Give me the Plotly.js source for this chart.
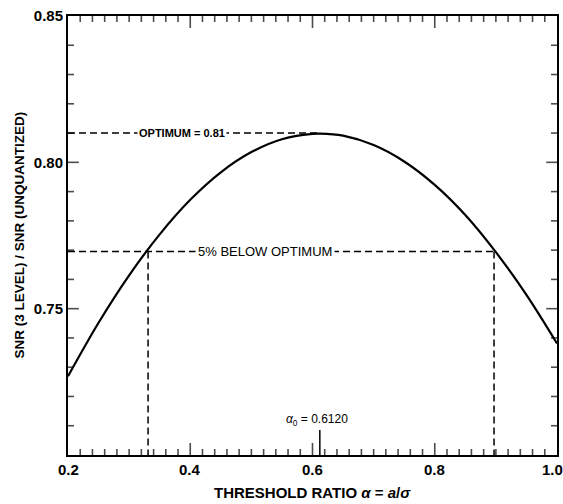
<!DOCTYPE html>
<html>
<head>
<meta charset="utf-8">
<script src="https://cdn.plot.ly/plotly-3.0.1.min.js"></script>
<style>html,body{margin:0;padding:0;background:#fff;}#chart{width:563px;height:504px;}</style>
</head>
<body>
<div id="chart"></div>
<script>
// Threshold ratio alpha = a/sigma and the SNR ratio
var alpha = [0.20, 0.25, 0.30, 0.35, 0.40, 0.45, 0.50, 0.55, 0.60, 0.612, 0.65, 0.70, 0.75, 0.80, 0.85, 0.90, 0.95, 1.00];
var snrRatio = [0.7269, 0.7452, 0.7614, 0.7754, 0.7872, 0.7966, 0.8035, 0.8079, 0.8097, 0.8098, 0.8091, 0.8059, 0.8003, 0.7923, 0.7820, 0.7693, 0.7547, 0.7381];

var optimumValue = 0.81;
var alpha0 = 0.612;
var fivePctValue = 0.7695;
var fivePctLow = 0.331;
var fivePctHigh = 0.897;
var yFloor = 0.70;
var yTop = 0.85;
var xLeft = 0.2;
var xRight = 1.0;
var alpha0MarkTop = 0.7085;

// tick labels
var xTickVals = [0.2, 0.4, 0.6, 0.8, 1.0];
var xTickText = ["0.2", "0.4", "0.6", "0.8", "1.0"];
var yTickVals = [0.75, 0.80, 0.85];
var yTickText = ["0.75", "0.80", "0.85"];
// tick marks on the frame
var xMajorMarks = [0.4, 0.6, 0.8];
var yMajorMarks = [0.75, 0.80];

var FONT = "Liberation Sans, Arial, sans-serif";
var dashStyle = {color: "black", width: 1.5, dash: "7px,4px"};

// plot area size in px, used to turn tick lengths (px) into axis units
var PW = 563 - 68 - 6, PH = 504 - 16 - 49;
var xPerPx = (xRight - xLeft) / PW, yPerPx = (yTop - yFloor) / PH;

// frame tick marks drawn as line markers, centred half a tick inside the frame
var mx = [], my = [], ms = [], msym = [];
function addXTick(v, len) {
  mx.push(v, v); my.push(yFloor + len / 2 * yPerPx, yTop - len / 2 * yPerPx);
  ms.push(len, len); msym.push("line-ns-open", "line-ns-open");
}
function addYTick(v, len) {
  mx.push(xLeft + len / 2 * xPerPx, xRight - len / 2 * xPerPx); my.push(v, v);
  ms.push(len, len); msym.push("line-ew-open", "line-ew-open");
}
for (var i = 1; i < 40; i++) {
  var xv = Math.round((xLeft + i * 0.02) * 1000) / 1000;
  addXTick(xv, xMajorMarks.indexOf(xv) >= 0 ? 10 : 5);
}
for (var j = 1; j < 15; j++) {
  var yv = Math.round((yFloor + j * 0.01) * 1000) / 1000;
  addYTick(yv, yMajorMarks.indexOf(yv) >= 0 ? 9 : 5);
}

var traces = [
  {x: mx, y: my, mode: "markers", marker: {symbol: msym, size: ms, color: "black", line: {color: "black", width: 1.6}},
   hoverinfo: "skip", cliponaxis: false},
  {x: alpha, y: snrRatio, mode: "lines", line: {color: "black", width: 2.2, shape: "spline"}, hoverinfo: "skip"},
  {x: [xLeft, alpha0], y: [optimumValue, optimumValue], mode: "lines", line: dashStyle, hoverinfo: "skip"},
  {x: [xLeft, fivePctHigh], y: [fivePctValue, fivePctValue], mode: "lines", line: dashStyle, hoverinfo: "skip"},
  {x: [fivePctLow, fivePctLow], y: [fivePctValue, yFloor], mode: "lines", line: dashStyle, hoverinfo: "skip"},
  {x: [fivePctHigh, fivePctHigh], y: [fivePctValue, yFloor], mode: "lines", line: dashStyle, hoverinfo: "skip"},
  {x: [alpha0, alpha0], y: [yFloor, alpha0MarkTop], mode: "lines", line: {color: "black", width: 1.5}, hoverinfo: "skip"}
];

var annotations = [
  {x: 0.5, y: -0.0843, xref: "paper", yref: "paper", yanchor: "middle", xanchor: "center", showarrow: false,
   text: "THRESHOLD RATIO <i>α</i> = <i>a</i>/<i>σ</i>", font: {family: FONT, size: 15, weight: "bold"}},
  {x: -0.1002, y: 0.5, xref: "paper", yref: "paper", xanchor: "center", yanchor: "middle", textangle: -90, showarrow: false,
   text: "SNR (3 LEVEL) / SNR (UNQUANTIZED)", font: {family: FONT, size: 13.5, weight: "bold"}},
  {x: 0.3866, y: optimumValue, xref: "x", yref: "y", text: "OPTIMUM = 0.81", showarrow: false,
   bgcolor: "white", borderpad: 1, font: {family: FONT, size: 11, weight: "bold"}},
  {x: 0.522, y: fivePctValue, xref: "x", yref: "y", text: "5% BELOW OPTIMUM", showarrow: false,
   bgcolor: "white", borderpad: 2, font: {family: FONT, size: 13}},
  {x: 0.608, y: alpha0MarkTop, xref: "x", yref: "y", yanchor: "bottom", text: "<i>α</i><sub>0</sub> = 0.6120", showarrow: false,
   font: {family: FONT, size: 12}}
];
xTickVals.forEach(function (v, k) {
  annotations.push({x: v, y: 0, xref: "x", yref: "paper", yanchor: "top", xanchor: "center",
    xshift: (k === xTickVals.length - 1) ? -5 : 0, yshift: -4, showarrow: false,
    text: xTickText[k], font: {family: FONT, size: 15, weight: "bold"}});
});

var layout = {
  width: 563, height: 504,
  margin: {l: 68, r: 6, t: 16, b: 49},
  paper_bgcolor: "white", plot_bgcolor: "white",
  showlegend: false,
  font: {family: FONT, color: "black"},
  xaxis: {
    range: [xLeft, xRight],
    showticklabels: false, ticks: "",
    showline: true, linewidth: 2, linecolor: "black", mirror: true,
    showgrid: false, zeroline: false, automargin: false
  },
  yaxis: {
    range: [yFloor, yTop],
    tickmode: "array", tickvals: yTickVals, ticktext: yTickText, ticks: "",
    showline: true, linewidth: 2, linecolor: "black", mirror: true,
    showgrid: false, zeroline: false,
    tickfont: {family: FONT, size: 15, weight: "bold"},
    automargin: false
  },
  annotations: annotations
};

Plotly.newPlot("chart", traces, layout, {staticPlot: true, displayModeBar: false});
</script>
</body>
</html>
